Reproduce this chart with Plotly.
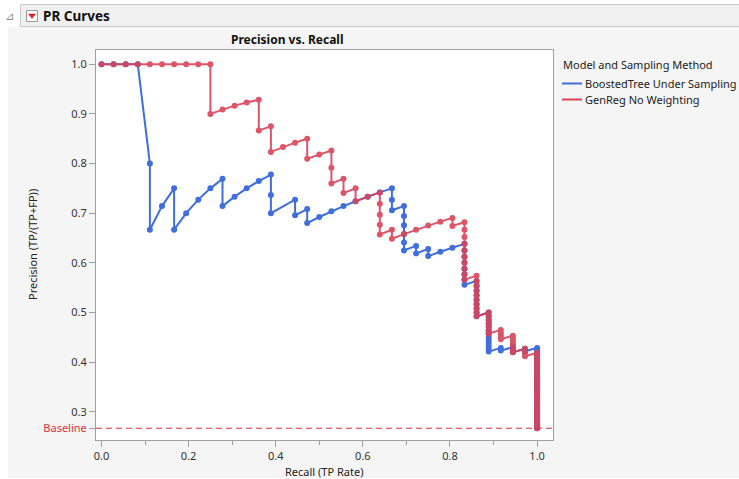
import plotly.graph_objects as go

# ---------------- data ----------------
bt_name = "BoostedTree Under Sampling"
gr_name = "GenReg No Weighting"

bt_recall = [
    0, 0.0278, 0.0556, 0.0833,
    0.1111, 0.1111, 0.1389, 0.1667, 0.1667, 0.1944, 0.2222, 0.25, 0.2778, 0.2778,
    0.3056, 0.3333, 0.3611, 0.3889, 0.3889, 0.3889,
    0.4444, 0.4444, 0.4722, 0.4722, 0.5, 0.5278, 0.5556, 0.5833, 0.6111, 0.6389,
    0.6667, 0.6667, 0.6667,
    0.6944, 0.6944, 0.6944, 0.6944, 0.6944, 0.6944,
    0.7222, 0.7222, 0.75, 0.75, 0.7778, 0.8056, 0.8333,
    0.8333, 0.8333, 0.8333, 0.8333, 0.8333, 0.8333, 0.8333,
    0.8611, 0.8611, 0.8611, 0.8611, 0.8611, 0.8611, 0.8611, 0.8611, 0.8611,
    0.8889, 0.8889, 0.8889, 0.8889, 0.8889, 0.8889, 0.8889, 0.8889, 0.8889, 0.8889,
    0.8889, 0.8889, 0.8889,
    0.9167, 0.9167,
    0.9444, 0.9444, 0.9444,
    0.9722, 0.9722,
    1.0, 1.0, 1.0, 1.0, 1.0, 1.0, 1.0, 1.0, 1.0, 1.0,
    1.0, 1.0, 1.0, 1.0, 1.0, 1.0, 1.0, 1.0, 1.0, 1.0,
    1.0, 1.0, 1.0, 1.0, 1.0, 1.0, 1.0, 1.0, 1.0, 1.0,
    1.0, 1.0, 1.0, 1.0, 1.0, 1.0, 1.0, 1.0, 1.0, 1.0,
    1.0, 1.0, 1.0, 1.0, 1.0, 1.0, 1.0, 1.0, 1.0, 1.0,
    1.0, 1.0,
]
bt_precision = [
    1, 1, 1, 1,
    0.8, 0.6667, 0.7143, 0.75, 0.6667, 0.7, 0.7273, 0.75, 0.7692, 0.7143,
    0.7333, 0.75, 0.7647, 0.7778, 0.7368, 0.7,
    0.7273, 0.6957, 0.7083, 0.68, 0.6923, 0.7037, 0.7143, 0.7241, 0.7333, 0.7419,
    0.75, 0.7273, 0.7059,
    0.7143, 0.6944, 0.6757, 0.6579, 0.6410, 0.625,
    0.6341, 0.6190, 0.6279, 0.6136, 0.6222, 0.6304, 0.6383,
    0.625, 0.6122, 0.6, 0.5882, 0.5769, 0.5660, 0.5556,
    0.5636, 0.5536, 0.5439, 0.5345, 0.5254, 0.5167, 0.5082, 0.5, 0.4921,
    0.5, 0.4923, 0.4848, 0.4776, 0.4706, 0.4638, 0.4571, 0.4507, 0.4444, 0.4384,
    0.4324, 0.4267, 0.4211,
    0.4286, 0.4231,
    0.4304, 0.425, 0.4198,
    0.4268, 0.4217,
    0.4286, 0.4235,
    0.4186, 0.4138, 0.4091, 0.4045, 0.4, 0.3956, 0.3913, 0.3871, 0.3830, 0.3789,
    0.375, 0.3711, 0.3673, 0.3636, 0.36, 0.3564, 0.3529, 0.3495, 0.3462, 0.3429,
    0.3396, 0.3364, 0.3333, 0.3303, 0.3273, 0.3243, 0.3214, 0.3186, 0.3158, 0.3130,
    0.3103, 0.3077, 0.3051, 0.3025, 0.3, 0.2975, 0.2951, 0.2927, 0.2903, 0.288,
    0.2857, 0.2835, 0.2813, 0.2791, 0.2769, 0.2748, 0.2727, 0.2707, 0.2687, 0.2667,
]

gr_recall = [
    0, 0.0278, 0.0556, 0.0833, 0.1111, 0.1389, 0.1667, 0.1944, 0.2222, 0.25,
    0.25, 0.2778, 0.3056, 0.3333, 0.3611,
    0.3611, 0.3889, 0.3889, 0.4167, 0.4444, 0.4722,
    0.4722, 0.5, 0.5278, 0.5278, 0.5278,
    0.5556, 0.5556, 0.5833, 0.5833, 0.6111, 0.6389,
    0.6389, 0.6389, 0.6389, 0.6389,
    0.6667, 0.6667, 0.6944, 0.7222, 0.75, 0.7778, 0.8056,
    0.8056, 0.8333,
    0.8333, 0.8333, 0.8333, 0.8333, 0.8333, 0.8333, 0.8333, 0.8333, 0.8333,
    0.8611,
    0.8611, 0.8611, 0.8611, 0.8611, 0.8611, 0.8611, 0.8611, 0.8611, 0.8611,
    0.8889,
    0.8889, 0.8889, 0.8889, 0.8889, 0.8889, 0.8889,
    0.9167,
    0.9167, 0.9167, 0.9167,
    0.9444,
    0.9444, 0.9444, 0.9444, 0.9444, 0.9444, 0.9444,
    0.9722,
    0.9722, 0.9722, 0.9722,
    1.0, 1.0, 1.0, 1.0, 1.0, 1.0, 1.0, 1.0, 1.0, 1.0,
    1.0, 1.0, 1.0, 1.0, 1.0, 1.0, 1.0, 1.0, 1.0, 1.0,
    1.0, 1.0, 1.0, 1.0, 1.0, 1.0, 1.0, 1.0, 1.0, 1.0,
    1.0, 1.0, 1.0, 1.0, 1.0, 1.0, 1.0, 1.0, 1.0, 1.0,
    1.0, 1.0, 1.0, 1.0, 1.0, 1.0, 1.0, 1.0, 1.0, 1.0,
]
gr_precision = [
    1, 1, 1, 1, 1, 1, 1, 1, 1, 1,
    0.9, 0.9091, 0.9167, 0.9231, 0.9286,
    0.8667, 0.875, 0.8235, 0.8333, 0.8421, 0.85,
    0.8095, 0.8182, 0.8261, 0.7917, 0.76,
    0.7692, 0.7407, 0.75, 0.7241, 0.7333, 0.7419,
    0.7188, 0.6970, 0.6765, 0.6571,
    0.6667, 0.6486, 0.6579, 0.6667, 0.675, 0.6829, 0.6905,
    0.6744, 0.6818,
    0.6667, 0.6522, 0.6383, 0.625, 0.6122, 0.6, 0.5882, 0.5769, 0.5660,
    0.5741,
    0.5636, 0.5536, 0.5439, 0.5345, 0.5254, 0.5167, 0.5082, 0.5, 0.4921,
    0.5,
    0.4923, 0.4848, 0.4776, 0.4706, 0.4638, 0.4571,
    0.4648,
    0.4583, 0.4521, 0.4459,
    0.4533,
    0.4474, 0.4416, 0.4359, 0.4304, 0.425, 0.4198,
    0.4268,
    0.4217, 0.4167, 0.4118,
    0.4186, 0.4138, 0.4091, 0.4045, 0.4, 0.3956, 0.3913, 0.3871, 0.3830, 0.3789,
    0.375, 0.3711, 0.3673, 0.3636, 0.36, 0.3564, 0.3529, 0.3495, 0.3462, 0.3429,
    0.3396, 0.3364, 0.3333, 0.3303, 0.3273, 0.3243, 0.3214, 0.3186, 0.3158, 0.3130,
    0.3103, 0.3077, 0.3051, 0.3025, 0.3, 0.2975, 0.2951, 0.2927, 0.2903, 0.288,
    0.2857, 0.2835, 0.2813, 0.2791, 0.2769, 0.2748, 0.2727, 0.2707, 0.2687, 0.2667,
]

baseline = 0.2667
x_ticks = [0.0, 0.2, 0.4, 0.6, 0.8, 1.0]
x_ticktext = ["0.0", "0.2", "0.4", "0.6", "0.8", "1.0"]
y_ticks = [baseline, 0.3, 0.4, 0.5, 0.6, 0.7, 0.8, 0.9, 1.0]
y_ticktext = ['<span style="color:#E0303F">Baseline</span>',
              "0.3", "0.4", "0.5", "0.6", "0.7", "0.8", "0.9", "1.0"]

# ---------------- styling ----------------
W, H = 739, 479
L, R, T, B = 96, 553, 50, 440          # plot area in pixels
BLUE = "#3F6FDB"
RED = "#D9445A"
FONT = "Noto Sans"
TXT = "#222222"


def px(X):
    return (X - L) / (R - L)


def py(Y):
    return (B - Y) / (B - T)


fig = go.Figure()
fig.add_trace(go.Scatter(x=bt_recall, y=bt_precision, name=bt_name,
                         mode="lines+markers",
                         line=dict(color=BLUE, width=2),
                         marker=dict(color=BLUE, size=6)))
fig.add_trace(go.Scatter(x=gr_recall, y=gr_precision, name=gr_name,
                         mode="lines+markers", opacity=0.9,
                         line=dict(color=RED, width=2),
                         marker=dict(color=RED, size=6)))

shapes = []
# panel background
shapes.append(dict(type="rect", xref="paper", yref="paper", layer="below",
                   x0=px(8), x1=px(739), y0=py(478), y1=py(27),
                   fillcolor="#F5F5F5", line=dict(width=0)))
# white plotting area
shapes.append(dict(type="rect", xref="paper", yref="paper", layer="below",
                   x0=0, x1=1, y0=0, y1=1,
                   fillcolor="#FFFFFF", line=dict(width=0)))
# header bar
shapes.append(dict(type="rect", xref="paper", yref="paper", layer="below",
                   x0=px(20.5), x1=px(745), y0=py(26.5), y1=py(4.5),
                   fillcolor="#F0F0F0", line=dict(color="#C8C8C8", width=1)))
# red dropdown button
shapes.append(dict(type="rect", xref="paper", yref="paper",
                   x0=px(26.5), x1=px(37.5), y0=py(21.5), y1=py(10.5),
                   fillcolor="#FFFFFF", line=dict(color="#9A9A9A", width=1)))
shapes.append(dict(type="path", xref="paper", yref="paper",
                   path="M %f %f L %f %f L %f %f Z" % (px(28.5), py(14), px(35.5), py(14), px(32), py(18.5)),
                   fillcolor="#E0202A", line=dict(color="#E0202A", width=0.5)))
# baseline
shapes.append(dict(type="line", xref="paper", yref="y", x0=0, x1=1,
                   y0=baseline, y1=baseline,
                   line=dict(color="#E0303F", width=1, dash="6px,4px")))
# manual legend line samples
shapes.append(dict(type="line", xref="paper", yref="paper",
                   x0=px(562), x1=px(582), y0=py(83.5), y1=py(83.5),
                   line=dict(color=BLUE, width=2)))
shapes.append(dict(type="line", xref="paper", yref="paper",
                   x0=px(562), x1=px(582), y0=py(99.5), y1=py(99.5),
                   line=dict(color=RED, width=2)))

annotations = [
    dict(text="<b>PR Curves</b>", x=px(41), y=py(16), xref="paper", yref="paper",
         xanchor="left", yanchor="middle", showarrow=False,
         font=dict(family=FONT, size=13.5, color="#111111")),
    dict(text="⊿", x=px(9), y=py(16), xref="paper", yref="paper",
         xanchor="center", yanchor="middle", showarrow=False,
         font=dict(family="DejaVu Sans", size=11, color="#8A8A8A")),
    dict(text="<b>Precision vs. Recall</b>", x=px(287), y=py(39), xref="paper", yref="paper",
         xanchor="center", yanchor="middle", showarrow=False,
         font=dict(family=FONT, size=12, color="#111111")),
    dict(text="Model and Sampling Method", x=px(561), y=py(65), xref="paper", yref="paper",
         xanchor="left", yanchor="middle", showarrow=False,
         font=dict(family=FONT, size=11, color=TXT)),
    dict(text=bt_name, x=px(583), y=py(83.5), xref="paper", yref="paper",
         xanchor="left", yanchor="middle", showarrow=False,
         font=dict(family=FONT, size=11, color=TXT)),
    dict(text=gr_name, x=px(583), y=py(99.5), xref="paper", yref="paper",
         xanchor="left", yanchor="middle", showarrow=False,
         font=dict(family=FONT, size=11, color=TXT)),
    dict(text="Recall (TP Rate)", x=px(324), y=py(471), xref="paper", yref="paper",
         xanchor="center", yanchor="middle", showarrow=False,
         font=dict(family=FONT, size=11, color=TXT)),
    dict(text="Precision (TP/(TP+FP))", x=px(32), y=py(245), xref="paper", yref="paper",
         xanchor="center", yanchor="middle", showarrow=False, textangle=-90,
         font=dict(family=FONT, size=11, color=TXT)),
]

fig.update_layout(
    width=W, height=H,
    margin=dict(l=L, r=W - R, t=T, b=H - B, pad=0, autoexpand=False),
    paper_bgcolor="#FFFFFF", plot_bgcolor="#FFFFFF",
    showlegend=False,
    font=dict(family=FONT, size=11, color=TXT),
    shapes=shapes, annotations=annotations,
)
fig.update_xaxes(
    range=[-0.0126, 1.0365], tickvals=x_ticks, ticktext=x_ticktext,
    ticks="outside", ticklen=6, tickcolor="#A0A0A0", tickwidth=1,
    minor=dict(dtick=0.1, tick0=0, ticks="outside", ticklen=4, tickcolor="#A0A0A0", showgrid=False),
    showline=True, linecolor="#A0A0A0", linewidth=1, mirror=True,
    showgrid=False, zeroline=False, automargin=False,
    tickfont=dict(family=FONT, size=11, color="#333333"),
)
fig.update_yaxes(
    range=[0.2430, 1.0288], tickvals=y_ticks, ticktext=y_ticktext,
    ticks="outside", ticklen=6, tickcolor="#A0A0A0", tickwidth=1,
    showline=True, linecolor="#A0A0A0", linewidth=1, mirror=True,
    showgrid=False, zeroline=False, automargin=False,
    tickfont=dict(family=FONT, size=11, color="#333333"),
)

fig.write_html("out.html")
